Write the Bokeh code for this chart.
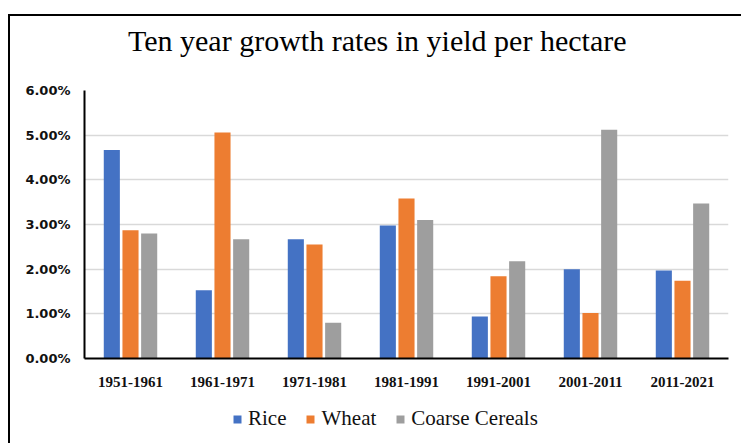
from bokeh.plotting import figure
from bokeh.models import (FactorRange, Legend, LegendItem, FixedTicker,
                          PrintfTickFormatter, ColumnDataSource, Div, InlineStyleSheet)
from bokeh.layouts import column
from bokeh.transform import dodge
from bokeh.embed import file_html
from bokeh.resources import INLINE

title_text = "Ten year growth rates in yield per hectare"
categories = ["1951-1961", "1961-1971", "1971-1981", "1981-1991",
              "1991-2001", "2001-2011", "2011-2021"]
rice = [4.67, 1.53, 2.67, 2.98, 0.94, 2.00, 1.97]
wheat = [2.87, 5.06, 2.55, 3.58, 1.84, 1.02, 1.74]
coarse = [2.80, 2.67, 0.80, 3.10, 2.18, 5.12, 3.47]
y_ticks = [0, 1, 2, 3, 4, 5, 6]
series_names = ["Rice", "Wheat", "Coarse Cereals"]
colors = ["#4472C4", "#ED7D31", "#9E9E9E"]

src = ColumnDataSource(dict(cat=categories, rice=rice, wheat=wheat, coarse=coarse))

# Title
title_div = Div(text=title_text, width=731, height=57, margin=0,
                styles={"font-family": "Liberation Serif", "font-size": "30px",
                        "color": "black", "line-height": "1",
                        "padding-left": "118px", "padding-top": "10px",
                        "white-space": "nowrap", "box-sizing": "border-box"})

# Main chart
p = figure(x_range=FactorRange(*categories), y_range=(0, 6),
           width=731, height=327, output_backend="svg", toolbar_location=None,
           min_border_left=74, min_border_right=13, min_border_top=17,
           min_border_bottom=42, margin=0)

renderers = []
for key, off, col in zip(["rice", "wheat", "coarse"], [-0.203, 0.0, 0.203], colors):
    r = p.vbar(x=dodge("cat", off, range=p.x_range), top=key, width=0.175,
               source=src, fill_color=col, line_color=None)
    renderers.append(r)

p.outline_line_color = None
p.xgrid.grid_line_color = None
p.ygrid.grid_line_color = "#D9D9D9"
p.ygrid.grid_line_width = 1.5

p.yaxis.ticker = FixedTicker(ticks=y_ticks)
p.yaxis.formatter = PrintfTickFormatter(format="%.2f%%")
p.yaxis.axis_line_color = "black"
p.yaxis.axis_line_width = 2
p.yaxis.major_tick_line_color = None
p.yaxis.minor_tick_line_color = None
p.yaxis.major_label_text_font = "DejaVu Sans"
p.yaxis.major_label_text_font_style = "bold"
p.yaxis.major_label_text_font_size = "13px"
p.yaxis.major_label_text_color = "#111111"
p.yaxis.major_label_standoff = 8

p.xaxis.axis_line_color = "black"
p.xaxis.axis_line_width = 2
p.xaxis.major_tick_line_color = None
p.xaxis.minor_tick_line_color = None
p.xaxis.major_label_text_font = "Liberation Serif"
p.xaxis.major_label_text_font_style = "bold"
p.xaxis.major_label_text_font_size = "15px"
p.xaxis.major_label_text_color = "#111111"
p.xaxis.major_label_standoff = 12

# Legend strip (its frame is aligned with the main chart's frame)
lp = figure(width=731, height=43, x_range=(0, 1), y_range=(0, 1),
            output_backend="svg", toolbar_location=None, min_border=0,
            x_axis_location=None, y_axis_location=None, margin=0)
lp.outline_line_color = None
lp.xgrid.visible = False
lp.ygrid.visible = False
leg_src = ColumnDataSource(dict(x=[0.5], top=[0.0]))
leg_renderers = [lp.vbar(x="x", top="top", bottom=0, width=0.0, source=leg_src,
                         fill_color=c, line_color=None) for c in colors]

legend = Legend(items=[LegendItem(label=n, renderers=[r]) for n, r in zip(series_names, leg_renderers)],
                orientation="horizontal", location=(148, 12))
legend.label_text_font = "Liberation Serif"
legend.label_text_font_size = "21px"
legend.label_text_color = "#111111"
legend.glyph_width = 10
legend.glyph_height = 10
legend.label_standoff = 6
legend.spacing = 19
legend.padding = 0
legend.margin = 0
legend.border_line_color = None
legend.background_fill_alpha = 0
lp.add_layout(legend, "center")

layout = column(title_div, p, lp, spacing=0, margin=(14, 0, 0, 8))
layout.stylesheets = [InlineStyleSheet(css=":host { border-left: 2px solid black; border-top: 2px solid black; }")]

open("out.html", "w").write(file_html(layout, INLINE))
